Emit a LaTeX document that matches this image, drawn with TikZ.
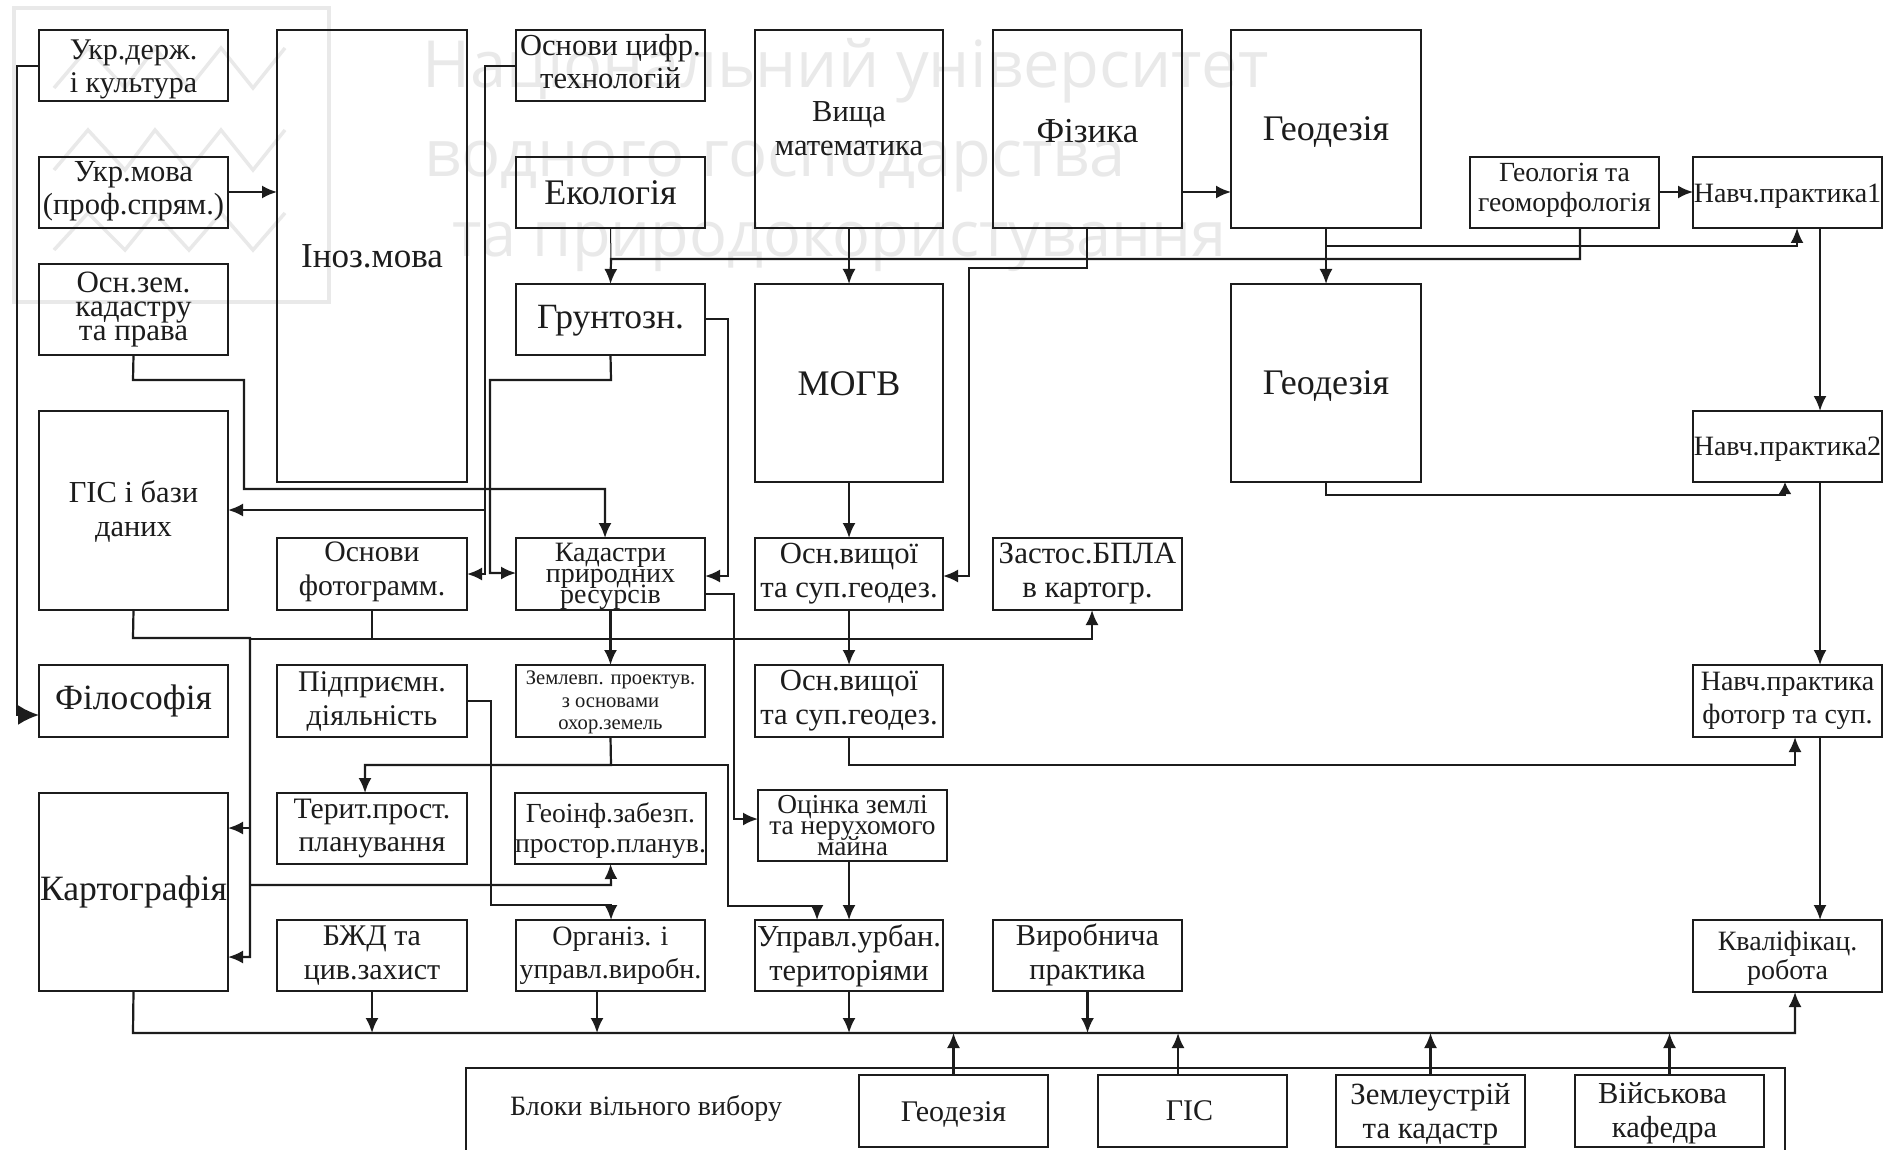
\documentclass[tikz,border=0pt]{standalone}
\usepackage{fontspec}
\setmainfont{Liberation Serif}
\newfontfamily\wmfont{Open Sans}
\usetikzlibrary{arrows.meta}
\definecolor{wm}{HTML}{E9E9E9}
\definecolor{ink}{HTML}{1C1C1C}
\tikzset{
  x=1pt,y=-1pt,
  boxn/.style={draw=ink,line width=2.2pt,inner sep=0pt,outer sep=0pt,align=center,text=ink},
  conn/.style={draw=ink,line width=2.2pt,line join=miter,-{Latex[length=15pt,width=13pt]}},
  plainc/.style={draw=ink,line width=2.2pt,line join=miter},
  thinc/.style={draw=ink,line width=1pt},
  bigc/.style={draw=ink,line width=2.6pt,line join=miter,-{Latex[length=21pt,width=20pt]}},
  wmtext/.style={text=wm,anchor=west,inner sep=0pt},
  wmline/.style={draw=wm,line width=3.5pt},
  labeln/.style={inner sep=0pt,text=ink}
}
\newcommand\bx[8]{\node[boxn,minimum width={(#4-#2)*1pt},minimum height={(#5-#3)*1pt},font={\fontsize{#6}{#7}\selectfont\lineskiplimit=-100pt}] (#1) at ({(#2+#4)/2},{(#3+#5)/2}) {#8};}
% move the text of a box down (first line) or up (last line) by #1 pt
\newcommand\dnk[1]{\rule{0pt}{\dimexpr 0.7em+#1pt+#1pt\relax}}
\newcommand\upk[1]{\rule[-\dimexpr 0.22em+#1pt+#1pt\relax]{0pt}{0pt}}
\begin{document}
\begin{tikzpicture}
\useasboundingbox[fill=white] (0,0) rectangle (1890,1150);
% watermark
\node[wmtext,font=\wmfont\fontsize{65}{65}\selectfont] (w1) at (422,71) {Національний університет};
\node[wmtext,font=\wmfont\fontsize{65}{65}\selectfont] (w2) at (424,167) {водного господарства};
\node[wmtext,font=\wmfont\fontsize{63}{63}\selectfont] (w3) at (452,247) {та природокористування};
\draw[wmline] (14,8) rectangle (329,302);
\draw[wmline] (54,88)--(88,48)--(125,88)--(155,48)--(189,88)--(221,48)--(253,88)--(285,48);
\draw[wmline] (54,170)--(88,130)--(125,170)--(155,130)--(189,170)--(221,130)--(253,170)--(285,130);
\draw[wmline] (54,250)--(88,213)--(125,250)--(155,213)--(189,250)--(221,213)--(253,250)--(285,213);
% boxes
\bx{ukrd}{39}{30}{228}{101}{30}{33}{\dnk{3.5}Укр.держ.\\і культура}
\bx{ukrm}{39}{157}{228}{228}{30.6}{33}{Укр.мова\\(проф.спрям.)\upk{1}}
\bx{osnz}{39}{264}{228}{355}{31}{24}{Осн.зем.\\кадастру\\та права}
\bx{ino}{277}{30}{467}{482}{35}{36}{Іноз.мова}
\bx{tsyf}{516}{30}{705}{101}{30.5}{33}{Основи цифр.\\технологій\upk{1.2}}
\bx{eko}{516}{157}{705}{228}{36}{36}{Екологія}
\bx{grn}{516}{284}{705}{355}{35.5}{36}{\dnk{0.5}Грунтозн.}
\bx{vysh}{755}{30}{943}{228}{30.5}{34}{Вища\\математика}
\bx{fiz}{993}{30}{1182}{228}{35}{36}{\dnk{1}Фізика}
\bx{geoa}{1231}{30}{1421}{228}{36}{36}{\dnk{2}Геодезія}
\bx{geol}{1470}{157}{1659}{228}{27.7}{30}{Геологія та\\геоморфологія\upk{2.5}}
\bx{npa}{1693}{157}{1882}{228}{28}{30}{\dnk{3.5}Навч.практика1}
\bx{geob}{1231}{284}{1421}{482}{36}{36}{\dnk{2.5}Геодезія}
\bx{mogv}{755}{284}{943}{482}{36}{40}{\dnk{0.5}МОГВ}
\bx{npb}{1693}{411}{1882}{482}{28}{30}{\dnk{2.5}Навч.практика2}
\bx{gis}{39}{411}{228}{610}{30.5}{34}{\dnk{1}ГІС і бази\\даних}
\bx{foto}{277}{538}{467}{610}{29.7}{34}{Основи\\фотограмм.\upk{2}}
\bx{kad}{516}{538}{705}{610}{28}{21}{\dnk{2}Кадастри\\природних\\ресурсів}
\bx{osva}{755}{538}{943}{610}{30.7}{34}{Осн.вищої\\та суп.геодез.}
\bx{zast}{993}{538}{1182}{610}{31}{34}{Застос.БПЛА\\в картогр.}
\bx{fil}{39}{665}{228}{737}{35.5}{38}{Філософія}
\bx{pid}{277}{665}{467}{737}{30}{34}{Підприємн.\\діяльність}
\bx{zem}{516}{665}{705}{737}{20.6}{22.5}{\dnk{1}Землевп. проектув.\\з основами\\охор.земель}
\bx{osvb}{755}{665}{943}{737}{30.7}{34}{Осн.вищої\\та суп.геодез.}
\bx{npf}{1693}{665}{1882}{737}{28}{33}{Навч.практика\\фотогр та суп.}
\bx{ter}{277}{793}{467}{864}{29.7}{33}{Терит.прост.\\планування}
\bx{gin}{516}{793}{705}{864}{27.6}{30}{\dnk{2.5}Геоінф.забезп.\\простор.планув.}
\bx{ots}{758}{790}{947}{861}{27.4}{21}{Оцінка землі\\та нерухомого\\майна}
\bx{kart}{39}{793}{228}{991}{35.6}{38}{Картографія}
\bx{bzd}{277}{920}{467}{991}{30}{34}{БЖД та\\цив.захист}
\bx{org}{516}{920}{705}{991}{28}{33}{Організ. і\\управл.виробн.}
\bx{upr}{755}{920}{943}{991}{30.4}{34}{Управл.урбан.\\територіями}
\bx{vyr}{993}{920}{1182}{991}{30.3}{34}{Виробнича\\практика\upk{1}}
\bx{kval}{1693}{920}{1882}{992}{28}{29}{\dnk{2}Кваліфікац.\\робота}
\bx{bga}{859}{1075}{1048}{1147}{30}{34}{\dnk{2.5}Геодезія}
\bx{bgb}{1098}{1075}{1287}{1147}{30}{34}{ГІС\kern 6pt}
\bx{bgc}{1336}{1075}{1525}{1147}{30.8}{34}{\dnk{2.5}Землеустрій\\та кадастр}
\bx{bgd}{1575}{1075}{1764}{1147}{30.5}{34}{\dnk{2.5}Військова\kern 14pt\\кафедра\kern 10pt}
\draw[plainc] (466,1150)--(466,1068)--(1785,1068)--(1785,1150);
\node[labeln,anchor=west,font={\fontsize{28}{30}\selectfont}] (blk) at (510,1108) {Блоки вільного вибору};
% named junctions
\coordinate (jbus) at (133,1033);
\coordinate (jcart) at (250,638);
\coordinate (jgeo) at (1325,246);
\coordinate (jtop) at (611,259);
% connectors
\draw[bigc] (ukrd.west |- 0,66) -- (17,66) -- (17,715) -- (fil.west |- 0,715);
\draw[conn] (ukrm.east |- 0,192) -- (ino.west |- 0,192);
\draw[conn] (osnz.south) -- (133,380) -- (244,380) -- (244,489) -- (605,489) -- (kad.north -| 605,0);
\draw[conn] (tsyf.west |- 0,66) -- (485,66) -- (485,574) -- (foto.east |- 0,574);
\draw[conn] (485,510) -- (gis.east |- 0,510);
\draw[thinc] (eko.south) -- (jtop);
\draw[conn] (geol.south -| 1580,0) -- (1580,259) -- (jtop) -- (grn.north);
\draw[conn] (grn.south) -- (611,380) -- (490,380) -- (490,573) -- (kad.west |- 0,573);
\draw[conn] (grn.east |- 0,319) -- (728,319) -- (728,576) -- (kad.east |- 0,576);
\draw[conn] (kad.east |- 0,594) -- (734,594) -- (734,819) -- (ots.west |- 0,819);
\draw[conn] (kad.south) -- (zem.north);
\draw[conn] (gis.south) -- (133,638) -- (jcart) -- (250,957) -- (kart.east |- 0,957);
\draw[conn] (250,828) -- (kart.east |- 0,828);
\draw[conn] (250,885) -- (611,885) -- (gin.south);
\draw[plainc] (foto.south -| 372,0) -- (372,639);
\draw[conn] (jcart) -- (250,639) -- (1092,639) -- (zast.south -| 1092,0);
\draw[conn] (pid.east |- 0,701) -- (491,701) -- (491,905) -- (611,905) -- (org.north -| 611,0);
\draw[conn] (zem.south) -- (611,765) -- (365,765) -- (ter.north -| 365,0);
\draw[conn] (611,765) -- (728,765) -- (728,906) -- (817,906) -- (upr.north -| 817,0);
\draw[conn] (ots.south -| 849,0) -- (upr.north -| 849,0);
\draw[conn] (vysh.south) -- (mogv.north);
\draw[conn] (mogv.south) -- (osva.north);
\draw[conn] (osva.south) -- (osvb.north);
\draw[conn] (fiz.east |- 0,192) -- (geoa.west |- 0,192);
\draw[conn] (fiz.south -| 1087,0) -- (1087,268) -- (969,268) -- (969,576) -- (osva.east |- 0,576);
\draw[conn] (geoa.south) -- (geob.north);
\draw[conn] (jgeo) -- (1797,246) -- (npa.south -| 1797,0);
\draw[conn] (geol.east |- 0,192) -- (npa.west |- 0,192);
\draw[conn] (npa.south -| 1820,0) -- (npb.north -| 1820,0);
\draw[conn] (npb.south -| 1820,0) -- (npf.north -| 1820,0);
\draw[conn] (npf.south -| 1820,0) -- (kval.north -| 1820,0);
\draw[draw=ink,line width=2.2pt,-{Latex[length=12pt,width=13pt]}] (geob.south) -- (1326,495) -- (1785,495) -- (npb.south -| 1785,0);
\draw[conn] (osvb.south) -- (849,765) -- (1795,765) -- (npf.south -| 1795,0);
\draw[conn] (kart.south) -- (jbus) -- (1795,1033) -- (kval.south -| 1795,0);
\draw[conn] (bzd.south) -- (372,1033);
\draw[conn] (org.south -| 597,0) -- (597,1033);
\draw[conn] (upr.south) -- (849,1033);
\draw[conn] (vyr.south) -- (1087.5,1033);
\draw[conn] (bga.north) -- (953.5,1033);
\draw[conn] (bgb.north -| 1178,0) -- (1178,1033);
\draw[conn] (bgc.north) -- (1430.5,1033);
\draw[conn] (bgd.north) -- (1669.5,1033);
\end{tikzpicture}
\end{document}
